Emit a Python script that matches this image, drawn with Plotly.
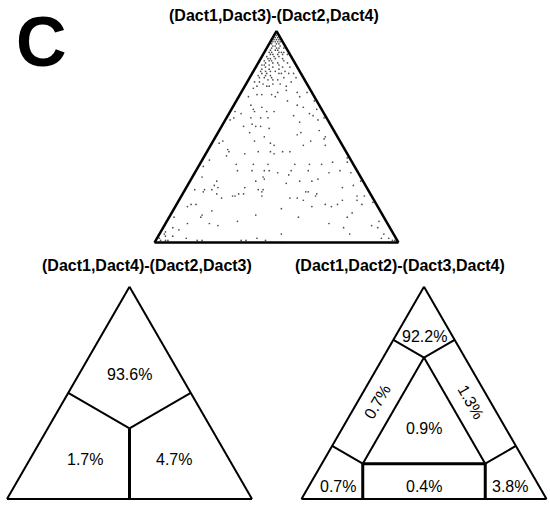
import math
import plotly.graph_objects as go

FIG_W, FIG_H = 550, 509
FONT = "Liberation Sans, Arial, sans-serif"

# Quartet likelihood weights for the scatter map: weight of the top vertex and
# of the right vertex (the left-vertex weight is what remains of 1).
quartet_top = [
    0.99, 0.98, 0.98, 0.97, 0.96, 0.95, 0.95, 0.95, 0.94, 0.94, 0.93, 0.92, 0.92, 0.92, 0.91, 0.91,
    0.90, 0.90, 0.90, 0.89, 0.89, 0.89, 0.89, 0.88, 0.87, 0.87, 0.87, 0.86, 0.86, 0.85, 0.85, 0.85,
    0.84, 0.84, 0.83, 0.83, 0.83, 0.82, 0.81, 0.81, 0.81, 0.81, 0.80, 0.80, 0.79, 0.80, 0.80, 0.80,
    0.78, 0.78, 0.77, 0.77, 0.78, 0.78, 0.76, 0.75, 0.75, 0.75, 0.76, 0.74, 0.74, 0.74,
    1.00, 0.99, 0.995,
    0.97, 0.96, 0.96, 0.95, 0.94, 0.93, 0.93, 0.92, 0.91, 0.90, 0.90, 0.89, 0.88, 0.88, 0.87,
    0.86, 0.86, 0.85, 0.84, 0.84, 0.83, 0.82, 0.82, 0.81, 0.80, 0.79, 0.79, 0.78, 0.77, 0.76,
    0.73, 0.74, 0.72, 0.71, 0.71, 0.70, 0.70, 0.70, 0.69, 0.69, 0.69, 0.71, 0.67, 0.67, 0.65,
    0.64, 0.63, 0.62, 0.62, 0.61, 0.62, 0.62, 0.65, 0.64, 0.63, 0.61, 0.60, 0.60, 0.59, 0.59,
    0.59, 0.59, 0.58, 0.59, 0.55, 0.56, 0.55, 0.55, 0.57, 0.54, 0.52, 0.53, 0.52, 0.50, 0.51,
    0.50, 0.58,
    0.48, 0.47, 0.46, 0.46, 0.48, 0.46, 0.49, 0.47, 0.44, 0.43, 0.42, 0.43, 0.43, 0.42, 0.43,
    0.43, 0.41, 0.39, 0.40, 0.37, 0.37, 0.37, 0.37, 0.37, 0.37, 0.38, 0.36, 0.34, 0.34, 0.34,
    0.34, 0.33, 0.34, 0.32, 0.34, 0.33, 0.34, 0.33, 0.31, 0.31, 0.30, 0.29, 0.28, 0.29, 0.29,
    0.30, 0.29, 0.27, 0.25, 0.25, 0.25, 0.26, 0.26, 0.25, 0.25, 0.24, 0.26, 0.27, 0.29, 0.38,
    0.48,
    0.24, 0.23, 0.21, 0.22, 0.22, 0.23, 0.23, 0.22, 0.24, 0.17, 0.18, 0.18, 0.15, 0.13, 0.12,
    0.13, 0.12, 0.10, 0.09, 0.09, 0.08, 0.07, 0.06, 0.04, 0.02, 0.01, 0.01, 0.00, 0.01, 0.00,
    0.01, 0.01, 0.02, 0.01, 0.01,
    0.21, 0.21, 0.24, 0.22, 0.23, 0.22, 0.22, 0.20, 0.17, 0.18, 0.17, 0.18, 0.20, 0.20, 0.18,
    0.19, 0.16, 0.12, 0.14, 0.12, 0.09, 0.07, 0.08, 0.10, 0.04, 0.04, 0.07, 0.02, 0.00, 0.01,
    0.00, 0.04,
    0.02, 0.03, 0.01, 0.05, 0.03, 0.01, 0.02,
]
quartet_right = [
    0.01, 0.01, 0.02, 0.01, 0.03, 0.01, 0.03, 0.04, 0.01, 0.03, 0.05, 0.02, 0.04, 0.07, 0.02, 0.04,
    0.06, 0.08, 0.02, 0.04, 0.06, 0.08, 0.10, 0.02, 0.04, 0.06, 0.09, 0.02, 0.04, 0.06, 0.08, 0.12,
    0.03, 0.05, 0.07, 0.11, 0.14, 0.03, 0.05, 0.07, 0.09, 0.13, 0.04, 0.06, 0.08, 0.11, 0.15, 0.17,
    0.04, 0.06, 0.08, 0.10, 0.14, 0.19, 0.05, 0.07, 0.11, 0.14, 0.18, 0.05, 0.09, 0.17,
    0.00, 0.00, 0.005,
    0.02, 0.01, 0.02, 0.02, 0.04, 0.02, 0.03, 0.05, 0.05, 0.03, 0.07, 0.03, 0.05, 0.07, 0.03,
    0.05, 0.10, 0.03, 0.09, 0.02, 0.04, 0.06, 0.10, 0.03, 0.12, 0.03, 0.06, 0.09, 0.12, 0.03,
    0.04, 0.10, 0.18, 0.23, 0.15, 0.07, 0.09, 0.13, 0.15, 0.04, 0.25, 0.27, 0.32, 0.21, 0.07,
    0.12, 0.09, 0.10, 0.02, 0.05, 0.15, 0.18, 0.26, 0.29, 0.35, 0.33, 0.35, 0.27, 0.03, 0.10,
    0.14, 0.17, 0.38, 0.40, 0.09, 0.12, 0.14, 0.16, 0.31, 0.20, 0.13, 0.41, 0.34, 0.20, 0.33,
    0.45, 0.02,
    0.17, 0.24, 0.26, 0.38, 0.40, 0.47, 0.45, 0.03, 0.08, 0.09, 0.16, 0.21, 0.26, 0.28, 0.31,
    0.34, 0.09, 0.03, 0.59, 0.15, 0.22, 0.28, 0.39, 0.45, 0.50, 0.54, 0.02, 0.17, 0.23, 0.28,
    0.30, 0.34, 0.39, 0.39, 0.46, 0.55, 0.59, 0.64, 0.04, 0.29, 0.30, 0.27, 0.40, 0.45, 0.50,
    0.52, 0.11, 0.11, 0.04, 0.08, 0.11, 0.13, 0.24, 0.30, 0.32, 0.51, 0.64, 0.68, 0.70, 0.60,
    0.04,
    0.08, 0.14, 0.17, 0.21, 0.22, 0.23, 0.25, 0.33, 0.32, 0.05, 0.06, 0.08, 0.16, 0.13, 0.13,
    0.35, 0.02, 0.29, 0.09, 0.18, 0.22, 0.04, 0.07, 0.02, 0.12, 0.17, 0.19, 0.21, 0.02, 0.03,
    0.05, 0.37, 0.41, 0.45, 0.35,
    0.45, 0.48, 0.50, 0.55, 0.55, 0.72, 0.75, 0.51, 0.56, 0.61, 0.64, 0.66, 0.67, 0.73, 0.76,
    0.80, 0.44, 0.53, 0.74, 0.73, 0.67, 0.74, 0.85, 0.87, 0.78, 0.50, 0.88, 0.92, 0.96, 0.98,
    0.52, 0.92,
    0.01, 0.03, 0.04, 0.02, 0.06, 0.97, 0.95,
]

panel_titles = [
    "(Dact1,Dact3)-(Dact2,Dact4)",
    "(Dact1,Dact4)-(Dact2,Dact3)",
    "(Dact1,Dact2)-(Dact3,Dact4)",
]

# Share of quartets in the three basins of attraction (top, left, right)
basin_names = ["top", "left", "right"]
basin_pct = [93.6, 1.7, 4.7]

# Share of quartets in the seven areas of the map
area_names = ["top", "left side", "right side", "center", "left corner", "base", "right corner"]
area_pct = [92.2, 0.7, 1.3, 0.9, 0.7, 0.4, 3.8]

# --- geometry helpers -------------------------------------------------------
H3 = math.sqrt(3) / 2


def to_xy(a, c):
    """Barycentric weights (top a, right c, left = 1-a-c) -> plane coordinates."""
    return c + a / 2, a * H3


# label anchors (top weight, right weight) for every region
basin_anchor = {"top": (0.585, 0.2075), "left": (0.185, 0.225), "right": (0.185, 0.59)}
area_anchor = {
    "top": (0.765, 0.1175), "left side": (0.46, 0.08), "right side": (0.46, 0.46),
    "center": (1 / 3, 1 / 3), "left corner": (0.06, 0.12), "base": (0.06, 0.47),
    "right corner": (0.06, 0.82),
}
area_angle = {"left side": -60, "right side": 60}

# panel placement on the page: left corner x, base y, side length (pixels)
panels = [(154.5, 242.5, 244.0), (7.0, 499.0, 245.0), (301.5, 499.0, 245.0)]
PAD = 0.012

fig = go.Figure()
layout_axes = {}
for i, (left, base, side) in enumerate(panels, start=1):
    sx = "" if i == 1 else str(i)
    xd = [(left - PAD * side) / FIG_W, (left + side + PAD * side) / FIG_W]
    yd = [1 - (base + PAD * side) / FIG_H, 1 - (base - (H3 + PAD) * side) / FIG_H]
    common = dict(visible=False, showgrid=False, zeroline=False, fixedrange=True)
    layout_axes["xaxis" + sx] = dict(domain=xd, range=[-PAD, 1 + PAD], **common)
    layout_axes["yaxis" + sx] = dict(domain=yd, range=[-PAD, H3 + PAD], **common)


def segs(pairs):
    xs, ys = [], []
    for p, q in pairs:
        for a, c in (p, q):
            x, y = to_xy(a, c)
            xs.append(x)
            ys.append(y)
        xs.append(None)
        ys.append(None)
    return xs, ys


def add_lines(pairs, width, panel):
    xs, ys = segs(pairs)
    sx = "" if panel == 1 else str(panel)
    fig.add_trace(go.Scatter(
        x=xs, y=ys, mode="lines", line=dict(color="black", width=width),
        xaxis="x" + sx, yaxis="y" + sx, hoverinfo="skip", showlegend=False,
    ))


# corners as (top weight, right weight)
TOP, LEFT, RIGHT = (1.0, 0.0), (0.0, 0.0), (0.0, 1.0)

# scatter map of quartet weights
px, py = zip(*[to_xy(a, c) for a, c in zip(quartet_top, quartet_right)])
fig.add_trace(go.Scatter(
    x=px, y=py, mode="markers", xaxis="x", yaxis="y",
    marker=dict(size=1.7, color="rgba(0,0,0,0.7)", line=dict(width=0)),
    hoverinfo="skip", showlegend=False,
))
add_lines([(LEFT, RIGHT), (RIGHT, TOP), (TOP, LEFT)], 2.5, 1)

# three basins of attraction
centre = (1 / 3, 1 / 3)
add_lines([(LEFT, RIGHT), (RIGHT, TOP), (TOP, LEFT)], 2, 2)
add_lines([(centre, (0.5, 0.0)), (centre, (0.5, 0.5))], 2, 2)
add_lines([(centre, (0.0, 0.5))], 3, 2)

# seven areas
pa, pb, pc = (2 / 3, 1 / 6), (1 / 6, 1 / 6), (1 / 6, 2 / 3)
add_lines([(LEFT, RIGHT), (RIGHT, TOP), (TOP, LEFT)], 2, 3)
add_lines([
    (pa, pb), (pc, pa),
    (pa, (0.75, 0.0)), (pa, (0.75, 0.25)),
    (pb, (0.25, 0.0)), (pc, (0.25, 0.75)),
], 2, 3)
add_lines([(pb, pc), (pb, (0.0, 0.25)), (pc, (0.0, 0.75))], 3, 3)

annotations = []


def pct_text(v):
    return f"{v:.1f}%"


for name, v in zip(basin_names, basin_pct):
    x, y = to_xy(*basin_anchor[name])
    annotations.append(dict(
        x=x, y=y, xref="x2", yref="y2", text=pct_text(v), showarrow=False,
        xanchor="center", yanchor="middle",
        font=dict(family=FONT, size=16, color="black"),
    ))

for name, v in zip(area_names, area_pct):
    x, y = to_xy(*area_anchor[name])
    annotations.append(dict(
        x=x, y=y, xref="x3", yref="y3", text=pct_text(v), showarrow=False,
        xanchor="center", yanchor="middle", textangle=area_angle.get(name, 0),
        font=dict(family=FONT, size=16, color="black"),
    ))

title_pos = [(274, 16), (147, 265), (400, 265)]
for t, (tx, ty) in zip(panel_titles, title_pos):
    annotations.append(dict(
        x=tx / FIG_W, y=1 - ty / FIG_H, xref="paper", yref="paper",
        xanchor="center", yanchor="middle",
        text=f"<b>{t}</b>", showarrow=False,
        font=dict(family=FONT, size=16, color="black"),
    ))

annotations.append(dict(
    x=41 / FIG_W, y=1 - 42 / FIG_H, xref="paper", yref="paper", text="<b>C</b>",
    xanchor="center", yanchor="middle",
    showarrow=False, font=dict(family=FONT, size=70, color="black"),
))

fig.update_layout(
    width=FIG_W, height=FIG_H, margin=dict(l=0, r=0, t=0, b=0),
    paper_bgcolor="white", plot_bgcolor="white", showlegend=False,
    annotations=annotations, **layout_axes,
)

fig.write_html("out.html", config={"displayModeBar": False})
